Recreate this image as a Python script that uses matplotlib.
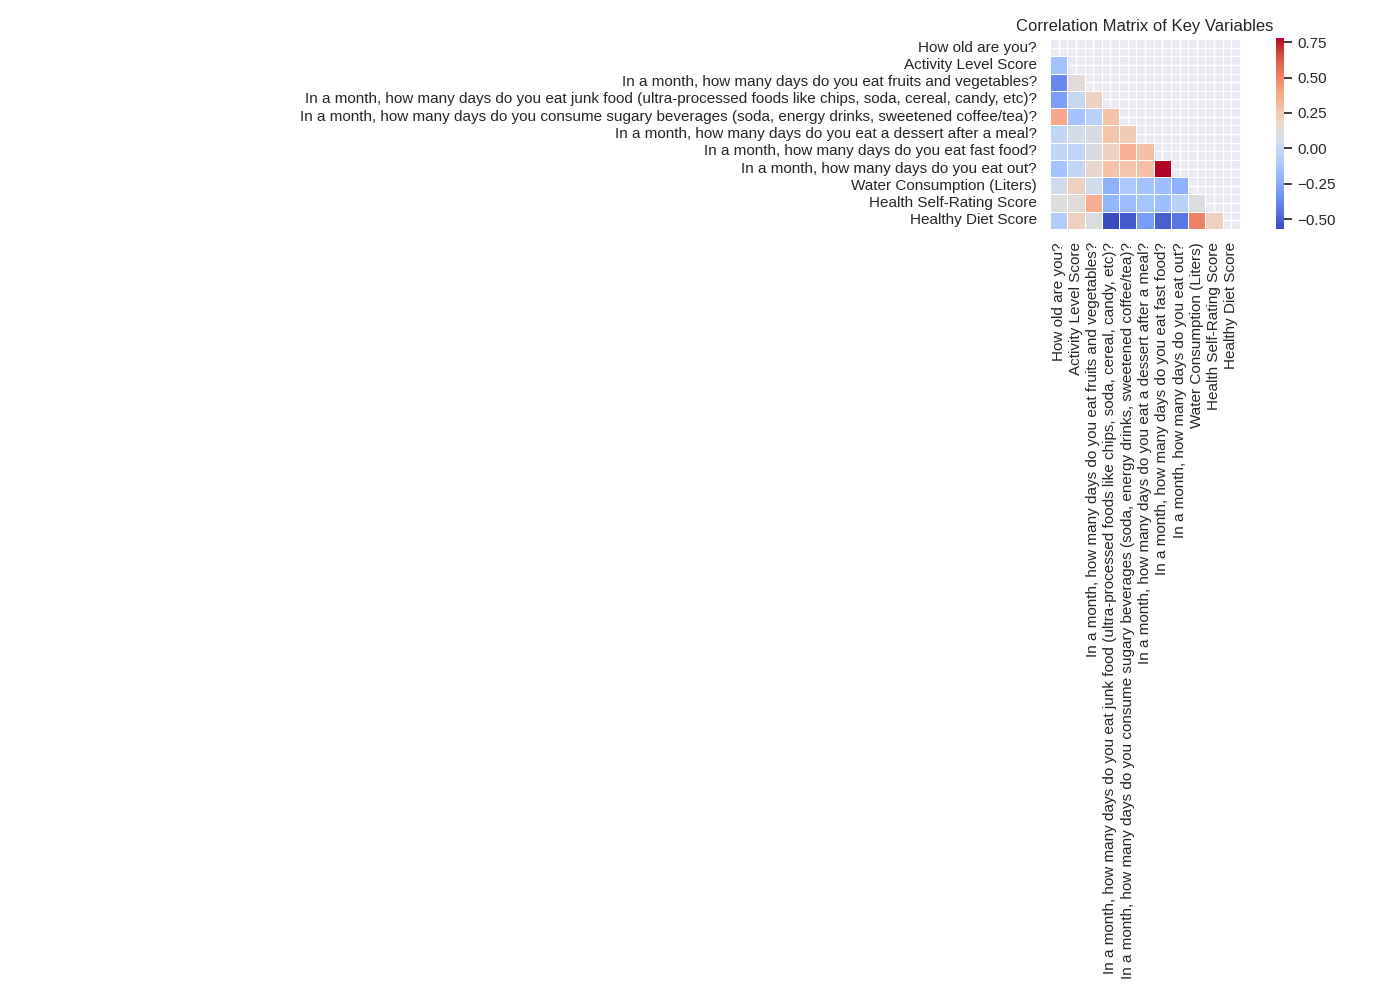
import numpy as np
import pandas as pd
import matplotlib
matplotlib.use("Agg")
import matplotlib.pyplot as plt
import seaborn as sns

labels = [
    "How old are you?",
    "Activity Level Score",
    "In a month, how many days do you eat fruits and vegetables?",
    "In a month, how many days do you eat junk food (ultra-processed foods like chips, soda, cereal, candy, etc)?",
    "In a month, how many days do you consume sugary beverages (soda, energy drinks, sweetened coffee/tea)?",
    "In a month, how many days do you eat a dessert after a meal?",
    "In a month, how many days do you eat fast food?",
    "In a month, how many days do you eat out?",
    "Water Consumption (Liters)",
    "Health Self-Rating Score",
    "Healthy Diet Score",
]

# lower-triangle correlations (row i, columns 0..i-1)
row_activity = [-0.14]
row_fruits = [-0.38, 0.13]
row_junk = [-0.30, 0.00, 0.20]
row_sugary = [0.40, -0.14, -0.06, 0.28]
row_dessert = [-0.02, 0.05, 0.08, 0.27, 0.24]
row_fastfood = [-0.02, -0.03, 0.08, 0.20, 0.36, 0.29]
row_eatout = [-0.14, -0.02, 0.16, 0.28, 0.27, 0.29, 0.78]
row_water = [0.04, 0.21, 0.05, -0.22, -0.11, -0.14, -0.165, -0.22]
row_health = [0.10, 0.12, 0.37, -0.21, -0.17, -0.13, -0.165, -0.06, 0.09]
row_diet = [-0.08, 0.21, 0.09, -0.57, -0.52, -0.31, -0.51, -0.43, 0.52, 0.21]

lower_rows = [row_activity, row_fruits, row_junk, row_sugary, row_dessert,
              row_fastfood, row_eatout, row_water, row_health, row_diet]

n = len(labels)
corr = np.eye(n)
for i, row in enumerate(lower_rows, start=1):
    for j, v in enumerate(row):
        corr[i, j] = v
        corr[j, i] = v
corr_df = pd.DataFrame(corr, index=labels, columns=labels)

sns.set_theme()
plt.rcParams['font.family'] = ['Liberation Sans', 'DejaVu Sans']

fig = plt.figure(figsize=(14, 10), dpi=100)
ax = fig.add_axes([0.75, 0.771, 0.1357, 0.19])
cax = fig.add_axes([0.9114, 0.771, 0.0059, 0.191])

mask = np.triu(np.ones_like(corr, dtype=bool))
sns.heatmap(corr_df, mask=mask, cmap="coolwarm", linewidths=0.5,
            ax=ax, cbar_ax=cax)
ax.set_title("Correlation Matrix of Key Variables")

fig.savefig("out.png", dpi=100)
